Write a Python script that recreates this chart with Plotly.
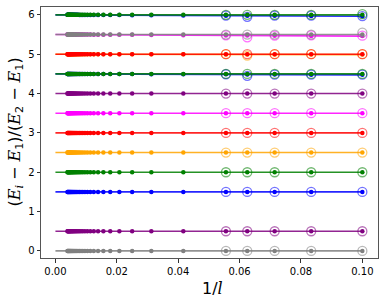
import plotly.graph_objects as go

# system sizes
L_CIRCLE = [10, 12, 14, 16, 18]
L_DOT = [10, 12, 14, 16, 18, 24, 32, 40, 48, 56, 64, 72, 80, 88, 96, 104, 112,
         120, 128, 136, 144, 152, 160, 168, 176, 184, 192, 200, 208, 216, 224,
         232, 240, 248, 256]
FIT_X = [0.0, 0.1]
N_DOT = len(L_DOT)

# series in draw order (lower layers first)
COLORS = ["gray", "purple", "blue", "green", "orange", "red", "magenta",
          "purple", "blue", "green", "orange", "red", "magenta", "gray",
          "blue", "green"]

# open-circle values at l = 10, 12, 14, 16, 18
CIRCLE_Y = [
    [0.0, 0.0, 0.0, 0.0, 0.0],
    [0.5, 0.5, 0.5, 0.5, 0.5],
    [1.5, 1.5, 1.5, 1.5, 1.5],
    [2.0, 2.0, 2.0, 2.0, 2.0],
    [2.5, 2.5, 2.5, 2.5, 2.5],
    [3.0, 3.0, 3.0, 3.0, 3.0],
    [3.5, 3.5, 3.5, 3.5, 3.5],
    [4.0, 4.0, 4.0, 4.0, 4.0],
    [4.48, 4.48, 4.48, 4.45, 4.49],
    [4.5, 4.5, 4.5, 4.5, 4.5],
    [5.0, 5.0, 5.0, 4.965, 5.0],
    [5.0, 5.0, 5.0, 5.0, 5.0],
    [5.47, 5.48, 5.47, 5.43, 5.48],
    [5.55, 5.5, 5.5, 5.5, 5.5],
    [5.97, 5.98, 5.98, 5.95, 5.98],
    [6.02, 6.0, 6.0, 6.0, 6.0],
]

# small-dot values at L_DOT
DOT_Y = [
    [0.0] * N_DOT,
    [0.5] * N_DOT,
    [1.5] * N_DOT,
    [2.0] * N_DOT,
    [2.5] * N_DOT,
    [3.0] * N_DOT,
    [3.5] * N_DOT,
    [4.0] * N_DOT,
    [4.475, 4.48, 4.483, 4.486, 4.488, 4.49, 4.493, 4.495, 4.496, 4.497, 4.497,
     4.498, 4.498, 4.498, 4.499, 4.499, 4.499, 4.499, 4.5, 4.5, 4.5, 4.5, 4.5,
     4.5, 4.5, 4.5, 4.5, 4.5, 4.5, 4.5, 4.5, 4.5, 4.5, 4.5, 4.5],
    [4.5] * N_DOT,
    [4.99, 4.992, 4.993, 4.994, 4.995, 4.996, 4.997, 4.998, 4.998, 4.999,
     4.999, 4.999, 5.0, 5.0, 5.0, 5.0, 5.0, 5.0, 5.0, 5.0, 5.0, 5.0, 5.0, 5.0,
     5.0, 5.0, 5.0, 5.0, 5.0, 5.0, 5.0, 5.0, 5.0, 5.0, 5.0],
    [5.0] * N_DOT,
    [5.46, 5.465, 5.47, 5.475, 5.478, 5.485, 5.49, 5.492, 5.494, 5.495, 5.496,
     5.497, 5.497, 5.498, 5.498, 5.498, 5.499, 5.499, 5.499, 5.5, 5.5, 5.5,
     5.5, 5.5, 5.5, 5.5, 5.5, 5.5, 5.5, 5.5, 5.5, 5.5, 5.5, 5.5, 5.5],
    [5.5] * N_DOT,
    [5.965, 5.97, 5.975, 5.978, 5.98, 5.986, 5.99, 5.992, 5.994, 5.995, 5.996,
     5.997, 5.997, 5.998, 5.998, 5.998, 5.999, 5.999, 5.999, 6.0, 6.0, 6.0,
     6.0, 6.0, 6.0, 6.0, 6.0, 6.0, 6.0, 6.0, 6.0, 6.0, 6.0, 6.0, 6.0],
    [6.0] * N_DOT,
]

# extrapolated fit line values at x = 0 and x = 0.1
FIT_Y = [
    [0.0, 0.0], [0.5, 0.5], [1.5, 1.5], [2.0, 2.0], [2.5, 2.5], [3.0, 3.0],
    [3.5, 3.5], [4.0, 4.0], [4.5, 4.475], [4.5, 4.5], [5.0, 4.99], [5.0, 5.0],
    [5.5, 5.46], [5.5, 5.5], [6.0, 5.965], [6.0, 6.0],
]

X_TICKS = [0.0, 0.02, 0.04, 0.06, 0.08, 0.10]
X_TICK_LABELS = ["0.00", "0.02", "0.04", "0.06", "0.08", "0.10"]
Y_TICKS = [0, 1, 2, 3, 4, 5, 6]

x_dot = [1.0 / l for l in L_DOT]
x_circ = [1.0 / l for l in L_CIRCLE]

fig = go.Figure()
for c, cy, dy, fy in zip(COLORS, CIRCLE_Y, DOT_Y, FIT_Y):
    fig.add_trace(go.Scatter(x=FIT_X, y=fy, mode="lines",
                             line=dict(color=c, width=1.6), opacity=0.85,
                             showlegend=False, hoverinfo="skip"))
    fig.add_trace(go.Scatter(x=x_dot, y=dy, mode="markers",
                             marker=dict(color=c, size=4.5, line=dict(width=0)),
                             showlegend=False))
    fig.add_trace(go.Scatter(x=x_circ, y=cy, mode="markers",
                             marker=dict(symbol="circle-open", color=c, size=9,
                                         line=dict(width=1.3)),
                             opacity=0.55, showlegend=False))

axis_common = dict(showgrid=False, zeroline=False, showline=True,
                   linecolor="#555555", linewidth=1, mirror=True,
                   ticks="outside", ticklen=3.5, tickwidth=0.8,
                   tickcolor="#333333", automargin=False,
                   tickfont=dict(family="DejaVu Sans", size=10, color="black"))

SERIF_I = '<span style="font-family:DejaVu Serif;font-style:italic">{}</span>'
E = SERIF_I.format("E")
ylab = ("(" + E + "<sub>" + SERIF_I.format("i") + "</sub> − " + E +
        "<sub>1</sub>)/(" + E + "<sub>2</sub> − " + E + "<sub>1</sub>)")
xlab = "1/" + SERIF_I.format("l")

fig.update_layout(
    width=385, height=300,
    margin=dict(l=41, r=7, t=7, b=42),
    paper_bgcolor="white", plot_bgcolor="white",
    font=dict(family="DejaVu Sans", color="black"),
    xaxis=dict(range=[-0.0047, 0.1051], tickvals=X_TICKS,
               ticktext=X_TICK_LABELS, **axis_common),
    yaxis=dict(range=[-0.18, 6.2], tickvals=Y_TICKS, **axis_common),
    annotations=[
        dict(text=xlab, xref="paper", yref="paper", x=0.51, y=-0.12,
             xanchor="center", yanchor="middle", showarrow=False,
             font=dict(size=16, family="DejaVu Sans", color="black")),
        dict(text=ylab, xref="paper", yref="paper", x=-0.077, y=0.5,
             xanchor="center", yanchor="middle", textangle=-90,
             showarrow=False,
             font=dict(size=16, family="DejaVu Sans", color="black")),
    ],
)

# remove the page's default body margin so the figure fills the window
fig.write_html("out.html",
               config={"displayModeBar": False},
               post_script="document.body.style.margin='0px';")
